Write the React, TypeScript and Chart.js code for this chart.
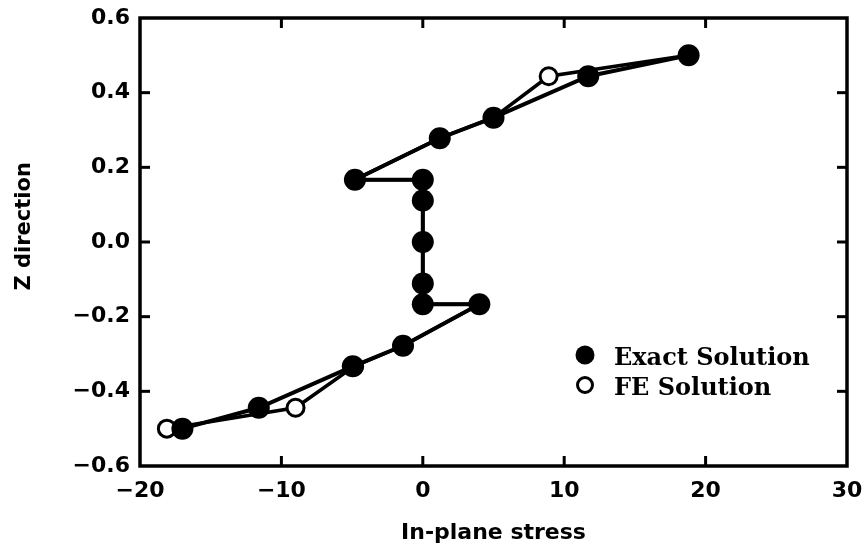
import React, { useEffect, useRef } from "react";
import { Chart, registerables } from "chart.js";

Chart.register(...registerables);

// Z positions (through-thickness) shared by both series
const zLevels = [-0.5, -0.444, -0.333, -0.278, -0.167, -0.167, -0.111, 0, 0.111, 0.167, 0.167, 0.278, 0.333, 0.444, 0.5];
// In-plane stress, exact solution
const exactStress = [-17.0, -11.6, -4.95, -1.4, 4.0, 0, 0, 0, 0, 0, -4.8, 1.2, 5.0, 11.7, 18.8];
// In-plane stress, FE solution
const feStress = [-18.1, -9.0, -4.85, -1.4, 4.0, 0, 0, 0, 0, 0, -4.8, 1.2, 5.0, 8.9, 18.8];

const xTicks = [-20, -10, 0, 10, 20, 30];
const xTickLabels = ["\u221220", "\u221210", "0", "10", "20", "30"];
const yTicks = [-0.6, -0.4, -0.2, 0, 0.2, 0.4, 0.6];
const yTickLabels = ["\u22120.6", "\u22120.4", "\u22120.2", "0.0", "0.2", "0.4", "0.6"];

const seriesNames = ["Exact Solution", "FE Solution"];
const xTitle = "In-plane stress";
const yTitle = "Z direction";

export default function App() {
  const ref = useRef<HTMLCanvasElement>(null);

  useEffect(() => {
    document.body.style.margin = "0";
    const canvas = ref.current;
    if (!canvas) return;

    const framePlugin = {
      id: "frameAndLegend",
      beforeDatasetsDraw(chart: any) {
        const { ctx, chartArea: a, scales } = chart;
        ctx.save();
        ctx.strokeStyle = "#000";
        ctx.lineWidth = 3.5;
        ctx.strokeRect(a.left, a.top, a.right - a.left, a.bottom - a.top);
        ctx.lineWidth = 3;
        const tl = 10;
        const seg = (x1: number, y1: number, x2: number, y2: number) => {
          ctx.beginPath();
          ctx.moveTo(x1, y1);
          ctx.lineTo(x2, y2);
          ctx.stroke();
        };
        xTicks.slice(1, -1).forEach((v) => {
          const px = scales.x.getPixelForValue(v);
          seg(px, a.bottom, px, a.bottom - tl);
          seg(px, a.top, px, a.top + tl);
        });
        yTicks.slice(1, -1).forEach((v) => {
          const py = scales.y.getPixelForValue(v);
          seg(a.left, py, a.left + tl, py);
          seg(a.right, py, a.right - tl, py);
        });
        ctx.restore();
      },
      afterDraw(chart: any) {
        const { ctx, chartArea: a } = chart;
        ctx.save();
        ctx.fillStyle = "#000";
        // axis titles
        ctx.textAlign = "center";
        ctx.textBaseline = "middle";
        ctx.font = "bold 22px 'DejaVu Sans'";
        ctx.fillText(xTitle, (a.left + a.right) / 2, 533);
        ctx.save();
        ctx.translate(25, a.top + (a.bottom - a.top) * 0.465);
        ctx.rotate(-Math.PI / 2);
        ctx.font = "bold 21px 'DejaVu Sans'";
        ctx.fillText(yTitle, 0, 0);
        ctx.restore();

        // legend
        const cx = a.right - 262;
        const cy1 = a.bottom - 111;
        const cy2 = a.bottom - 81;
        ctx.beginPath();
        ctx.arc(cx, cy1, 9.5, 0, Math.PI * 2);
        ctx.fill();
        ctx.beginPath();
        ctx.arc(cx, cy2, 7.5, 0, Math.PI * 2);
        ctx.lineWidth = 3;
        ctx.strokeStyle = "#000";
        ctx.stroke();
        ctx.textAlign = "left";
        ctx.textBaseline = "alphabetic";
        ctx.font = "bold 24px 'DejaVu Serif'";
        ctx.fillText(seriesNames[0], a.right - 233, cy1 + 10);
        ctx.fillText(seriesNames[1], a.right - 233, cy2 + 10);
        ctx.restore();
      },
    };

    const tickFont = { family: "'DejaVu Sans'", size: 22, weight: "bold" as const };
    const zeroPad = (scale: any) => {
      scale.paddingTop = 0;
      scale.paddingBottom = 0;
      scale.paddingLeft = 0;
      scale.paddingRight = 0;
    };

    const chart = new Chart(canvas, {
      type: "scatter",
      data: {
        datasets: [
          {
            label: seriesNames[0],
            data: exactStress.map((s, i) => ({ x: s, y: zLevels[i] })),
            showLine: true,
            borderColor: "#000",
            backgroundColor: "#000",
            borderWidth: 4,
            pointRadius: 11,
            pointBorderWidth: 0,
            pointHoverRadius: 11,
          },
          {
            label: seriesNames[1],
            data: feStress.map((s, i) => ({ x: s, y: zLevels[i] })),
            showLine: true,
            borderColor: "#000",
            backgroundColor: "#fff",
            borderWidth: 3.5,
            pointRadius: 8.5,
            pointBorderWidth: 3,
            pointHoverRadius: 8.5,
          },
        ],
      },
      options: {
        animation: false,
        responsive: false,
        devicePixelRatio: 1,
        events: [],
        layout: { padding: { top: 18, right: 18, bottom: 0, left: 0 } },
        plugins: {
          legend: { display: false },
          tooltip: { enabled: false },
        },
        scales: {
          x: {
            type: "linear",
            min: -20,
            max: 30,
            afterBuildTicks: (scale: any) => {
              scale.ticks = xTicks.map((v) => ({ value: v }));
            },
            afterFit: (scale: any) => {
              scale.height = 86;
              zeroPad(scale);
            },
            grid: { display: false, drawTicks: false },
            border: { display: false },
            ticks: {
              color: "#000",
              font: tickFont,
              padding: 12,
              maxRotation: 0,
              callback: (_v: any, i: number) => xTickLabels[i],
            },
          },
          y: {
            type: "linear",
            min: -0.6,
            max: 0.6,
            afterBuildTicks: (scale: any) => {
              scale.ticks = yTicks.map((v) => ({ value: v }));
            },
            afterFit: (scale: any) => {
              scale.width = 140;
              zeroPad(scale);
            },
            grid: { display: false, drawTicks: false },
            border: { display: false },
            ticks: {
              color: "#000",
              font: tickFont,
              padding: 10,
              callback: (_v: any, i: number) => yTickLabels[i],
            },
          },
        },
      },
      plugins: [framePlugin],
    });

    return () => chart.destroy();
  }, []);

  return (
    <canvas
      ref={ref}
      width={865}
      height={552}
      style={{ display: "block", width: "865px", height: "552px" }}
    />
  );
}
